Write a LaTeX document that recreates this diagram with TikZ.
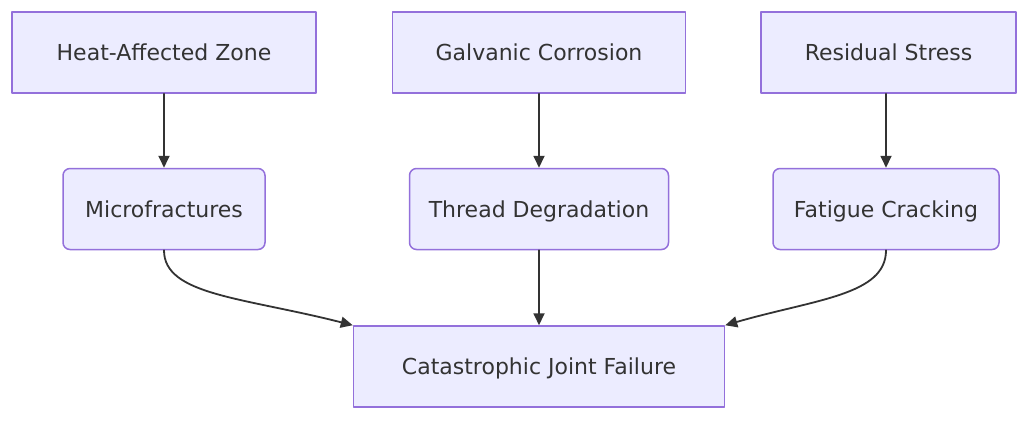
\documentclass[tikz,border=0pt]{standalone}
\usepackage{fontspec}
\setmainfont{DejaVu Sans}
\usetikzlibrary{arrows.meta}
\definecolor{boxfill}{HTML}{ECECFF}
\definecolor{boxline}{HTML}{9370DB}
\definecolor{ink}{HTML}{333333}
\begin{document}
\begin{tikzpicture}[x=1pt, y=-1pt, line cap=round, line join=round, >={Triangle[length=12pt,width=11pt]}, font=\fontsize{22}{26}\selectfont]
			\tikzset{cause/.style={draw=boxline, fill=boxfill, line width=1.5pt, text=ink, minimum height=81pt, inner sep=0pt, text height=20pt, text depth=4pt},
				effect/.style={cause, rounded corners=7pt},
				flow/.style={draw=ink, line width=1.8pt, ->}}
			\useasboundingbox (0,0) rectangle (1024,420);
			% causes
			\node[cause, minimum width=304pt] (haz) at (164,52.5) {Heat-Affected Zone};
			\node[cause, minimum width=293pt] (gc) at (539,52.5) {Galvanic Corrosion};
			\node[cause, minimum width=255pt] (rs) at (888.5,52.5) {Residual Stress};
			% effects
			\node[effect, minimum width=202pt] (mf) at (164,209) {Microfractures};
			\node[effect, minimum width=259pt] (td) at (539,209) {Thread Degradation};
			\node[effect, minimum width=226pt] (fc) at (886,209) {Fatigue Cracking};
			% result
			\node[cause, minimum width=371pt] (cjf) at (539,366.5) {Catastrophic Joint Failure};
			\draw[flow] (haz) -- (mf);
			\draw[flow] (gc) -- (td);
			\draw[flow] (rs.south -| fc) -- (fc);
			\draw[flow] (td) -- (cjf);
			\draw[flow] (mf.south) .. controls +(0,45) and +(-110,-28) .. (cjf.north west);
			\draw[flow] (fc.south) .. controls +(0,45) and +(90,-26) .. (cjf.north east);
	\end{tikzpicture}
\end{document}
